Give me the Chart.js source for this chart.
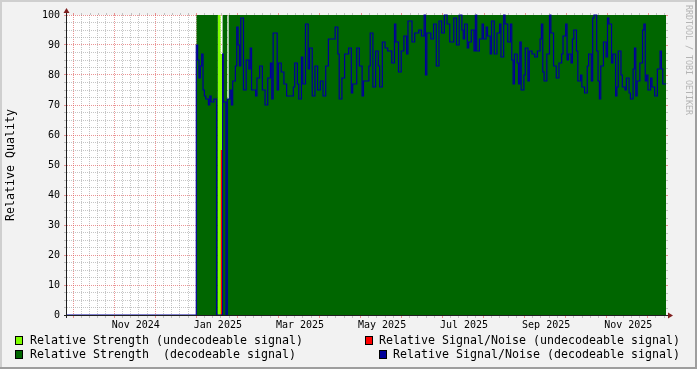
<!DOCTYPE html>
<html><head><meta charset="utf-8">
<script src="https://cdn.jsdelivr.net/npm/chart.js@4/dist/chart.umd.min.js"></script>
<style>html,body{margin:0;padding:0;background:#f2f2f2;}canvas{display:block;}</style>
</head><body>
<canvas id="c" width="697" height="369"></canvas>
<script>
// x values: days since 2025-01-01
const X_MIN = -95.9, X_MAX = 348.4;

// Relative Signal/Noise (decodeable signal)
const snDays = [-96,0,1,2,3,4,5,6,7,9,10,11,13,15,19.5,20,22,23,25,26,27,29,30,31,32,33,35,37,39,40,41,44,45,47,49,51,53,55,56,57,60,61,63,65,67,72,73,75,76,78,79,81,83,84,86,88,90,92,94,96,98,100,103,105,106,108,110,113,115,116,119,121,123,124,128,129,131,133,135,136,138,140,142,145,147,148,150,152,154,156,157,160,162,165,167,169,170,171,174,176,178,180,182,184,186,188,191,193,195,197,198,199,201,202,204,206,207,208,210,212,213,215,216,218,219,221,223,225,226,228,229,231,233,234,235,236,238,239,240,241,243,244,246,247,249,251,253,255,256,257,258,260,262,263,264,265,267,269,271,272,274,275,276,278,279,280,282,283,285,286,288,290,291,293,294,295,297,298,299,300,302,304,305,306,308,309,311,312,313,315,316,318,319,321,322,324,325,326,327,329,331,332,333,334,335,337,338,340,342,344,345,346,349];
const snValues = [0,90,85,79,83,87,75,73,72,70,73,71,72,0,87,71,0,72,75,70,78,83,96,90,83,99,75,85,82,89,75,73,79,83,75,70,79,84,72,94,75,84,81,77,73,76,84,77,72,86,77,97,82,89,73,83,75,78,73,83,92,92,96,87,72,79,87,89,74,77,89,83,73,78,83,94,76,88,83,76,91,89,88,84,97,91,81,88,93,87,98,91,94,95,93,100,80,94,92,97,83,98,94,100,97,91,99,90,100,95,92,97,89,91,95,88,100,88,92,97,92,96,93,87,98,87,94,97,86,100,97,91,97,85,77,87,84,77,91,75,80,89,78,88,87,86,88,92,97,81,78,87,100,94,94,83,79,84,87,93,97,85,87,84,92,95,88,78,80,76,74,83,87,78,99,100,88,78,72,83,91,86,99,97,84,87,73,76,88,80,76,75,79,74,72,82,89,73,78,84,95,97,78,80,75,79,76,73,82,88,82,77,77];

// Relative Strength (decodeable signal)
const strDecDays = [0,16,19.5,23,24,349];
const strDecValues = [100,0,100,72,100,100];

// Relative Strength (undecodeable signal)
const strUndDays = [16,18,19.5];
const strUndValues = [100,87,87];

// Relative Signal/Noise (undecodeable signal)
const snUndDays = [18,19.5];
const snUndValues = [55,55];

// time axis: month grid lines and labels
const monthGridDays = [-91.3,-60.9,-30.4,0,30.4,60.9,91.3,121.8,152.2,182.6,213.1,243.5,273.9,304.4,334.8];
const monthLabelDays = [-44.9,16,76.9,137.8,198.6,259.5,320.4];
const monthLabels = ['Nov 2024','Jan 2025','Mar 2025','May 2025','Jul 2025','Sep 2025','Nov 2025'];
const yMajor = [0,10,20,30,40,50,60,70,80,90,100];
const yMinorStep = 2.5;

const seriesNames = ['Relative Strength (undecodeable signal)','Relative Signal/Noise (undecodeable signal)','Relative Strength  (decodeable signal)','Relative Signal/Noise (decodeable signal)'];
const COLORS = {strUnd:'#7fff00', snUnd:'#ff0000', strDec:'#006600', snDec:'#000099'};

const GRID = 'rgba(160,160,160,0.6)', MGRID = 'rgba(222,79,79,0.6)', NONE = 'rgba(0,0,0,0)';
const MONO = '"DejaVu Sans Mono", "Liberation Mono", monospace';

const pts = (xs, ys) => xs.map((x, i) => ({x, y: ys[i]}));
const near = (arr, v) => arr.some(a => Math.abs(a - v) < 1e-6);

// minor x grid: 5 subdivisions per month interval
const xMinor = [];
for (let i = 0; i < monthGridDays.length - 1; i++) {
  const a = monthGridDays[i], b = monthGridDays[i+1];
  for (let k = 1; k < 5; k++) xMinor.push(a + (b - a) * k / 5);
}
{ const a = monthGridDays[0], b = monthGridDays[1];
  for (let k = 1; k < 5; k++) { const v = a - (b - a) * k / 5; if (v >= X_MIN) xMinor.push(v); }
  const c = monthGridDays[monthGridDays.length-1];
  for (let k = 1; k < 5; k++) { const v = c + (b - a) * k / 5; if (v <= X_MAX) xMinor.push(v); } }
const xTicks = [...xMinor, ...monthGridDays, ...monthLabelDays].filter(v => v >= X_MIN && v <= X_MAX).sort((a,b)=>a-b);
const yTicks = [];
for (let v = 0; v <= 100 + 1e-9; v += yMinorStep) yTicks.push(+v.toFixed(3));

function xColor(v) { if (near(monthGridDays, v)) return MGRID; if (near(monthLabelDays, v)) return NONE; return GRID; }
function yColor(v) { return near(yMajor, v) ? MGRID : GRID; }

const decor = {
  id: 'decor',
  beforeDraw(chart) {
    const {ctx, chartArea: a} = chart;
    ctx.save();
    ctx.fillStyle = '#f2f2f2'; ctx.fillRect(0, 0, chart.width, chart.height);
    ctx.fillStyle = '#ffffff'; ctx.fillRect(a.left, a.top, a.right - a.left, a.bottom - a.top);
    ctx.restore();
  },
  afterDraw(chart) {
    const {ctx, chartArea: a} = chart;
    const xs = chart.scales.x, ys = chart.scales.y;
    ctx.save();
    // outer ticks at top and right
    ctx.lineWidth = 1;
    xs.ticks.forEach(t => { const c = xColor(t.value); if (c === NONE) return;
      const p = Math.round(xs.getPixelForValue(t.value)) + 0.5;
      ctx.strokeStyle = c; ctx.beginPath(); ctx.moveTo(p, a.top - 2); ctx.lineTo(p, a.top); ctx.stroke(); });
    ys.ticks.forEach(t => { const c = yColor(t.value);
      const p = Math.round(ys.getPixelForValue(t.value)) + 0.5;
      ctx.strokeStyle = c; ctx.beginPath(); ctx.moveTo(a.right, p); ctx.lineTo(a.right + 2, p); ctx.stroke(); });
    // axes
    ctx.strokeStyle = '#1f1f1f';
    ctx.beginPath();
    ctx.moveTo(a.left - 3, a.bottom + 0.5); ctx.lineTo(a.right + 4, a.bottom + 0.5);
    ctx.moveTo(a.left - 0.5, a.bottom + 3); ctx.lineTo(a.left - 0.5, a.top - 4);
    ctx.stroke();
    ctx.fillStyle = '#801f1f';
    ctx.beginPath(); ctx.moveTo(a.right + 2, a.bottom - 2.5); ctx.lineTo(a.right + 7, a.bottom + 0.5); ctx.lineTo(a.right + 2, a.bottom + 3.5); ctx.closePath(); ctx.fill();
    ctx.beginPath(); ctx.moveTo(a.left - 3.5, a.top - 2); ctx.lineTo(a.left - 0.5, a.top - 7); ctx.lineTo(a.left + 2.5, a.top - 2); ctx.closePath(); ctx.fill();
    // y title
    ctx.fillStyle = '#000';
    ctx.font = '11.63px ' + MONO;
    ctx.textAlign = 'center'; ctx.textBaseline = 'middle';
    ctx.save(); ctx.translate(11, (a.top + a.bottom) / 2); ctx.rotate(-Math.PI / 2);
    ctx.fillText('Relative Quality', 0, 0); ctx.restore();
    // legend
    const items = [
      {c: COLORS.strUnd, t: seriesNames[0], bx: 15, tx: 30, y: 341, al: 'left'},
      {c: COLORS.snUnd, t: seriesNames[1], bx: 365, tx: 680, y: 341, al: 'right'},
      {c: COLORS.strDec, t: seriesNames[2], bx: 15, tx: 30, y: 355, al: 'left'},
      {c: COLORS.snDec, t: seriesNames[3], bx: 379, tx: 680, y: 355, al: 'right'},
    ];
    items.forEach(it => {
      ctx.fillStyle = '#000'; ctx.fillRect(it.bx, it.y - 5, 8, 9);
      ctx.fillStyle = it.c; ctx.fillRect(it.bx + 1, it.y - 4, 6, 7);
      ctx.fillStyle = '#000'; ctx.textAlign = it.al; ctx.fillText(it.t, it.tx, it.y);
    });
    // watermark
    ctx.fillStyle = '#b4b4b4';
    ctx.font = '8.3px ' + MONO;
    ctx.save(); ctx.translate(688, 5); ctx.rotate(Math.PI / 2);
    ctx.textAlign = 'left'; ctx.fillText('RRDTOOL / TOBI OETIKER', 0, 0); ctx.restore();
    // frame
    ctx.fillStyle = '#cfcfcf'; ctx.fillRect(0, 0, chart.width, 2); ctx.fillRect(0, 0, 2, chart.height);
    ctx.fillStyle = '#9e9e9e'; ctx.fillRect(0, chart.height - 2, chart.width, 2); ctx.fillRect(chart.width - 2, 0, 2, chart.height);
    ctx.restore();
  }
};

new Chart(document.getElementById('c'), {
  type: 'line',
  data: {
    datasets: [
      {label: seriesNames[2], data: pts(strDecDays, strDecValues), stepped: true, fill: 'origin', backgroundColor: COLORS.strDec, borderWidth: 0, pointRadius: 0, order: 4},
      {label: seriesNames[0], data: pts(strUndDays, strUndValues), stepped: true, fill: 'origin', backgroundColor: COLORS.strUnd, borderWidth: 0, pointRadius: 0, order: 3},
      {label: seriesNames[1], data: pts(snUndDays, snUndValues), stepped: true, fill: 'origin', backgroundColor: COLORS.snUnd, borderWidth: 0, pointRadius: 0, order: 2},
      {label: seriesNames[3], data: pts(snDays, snValues), stepped: true, fill: false, borderColor: COLORS.snDec, borderWidth: 1.2, pointRadius: 0, order: 1, clip: {left: 0, right: 0, top: 2, bottom: 2}},
    ]
  },
  options: {
    responsive: false, animation: false, devicePixelRatio: 1,
    layout: {padding: {left: 0, top: 15, right: 31, bottom: 0}},
    plugins: {legend: {display: false}, tooltip: {enabled: false}},
    scales: {
      x: {
        type: 'linear', min: X_MIN, max: X_MAX, z: 1,
        afterBuildTicks: s => { s.ticks = xTicks.map(v => ({value: v})); },
        afterFit: s => { s.height = 54; },
        grid: {color: c => xColor(c.tick.value), tickColor: c => xColor(c.tick.value), lineWidth: 1, drawTicks: true, tickLength: 3},
        border: {display: false, dash: [1, 1]},
        ticks: {autoSkip: false, maxRotation: 0, minRotation: 0, padding: 1, color: '#000',
          font: {family: MONO, size: 10},
          callback: v => { const i = monthLabelDays.findIndex(d => Math.abs(d - v) < 1e-6); return i >= 0 ? monthLabels[i] : ''; }}
      },
      y: {
        type: 'linear', min: 0, max: 100, z: 1,
        afterBuildTicks: s => { s.ticks = yTicks.map(v => ({value: v})); },
        afterFit: s => { s.width = 67; },
        grid: {color: c => yColor(c.tick.value), tickColor: c => yColor(c.tick.value), lineWidth: 1, drawTicks: true, tickLength: 3},
        border: {display: false, dash: [1, 1]},
        ticks: {autoSkip: false, padding: 4, color: '#000', font: {family: MONO, size: 10},
          callback: v => near(yMajor, v) ? String(v) : ''}
      }
    }
  },
  plugins: [decor]
});
</script>
</body></html>
